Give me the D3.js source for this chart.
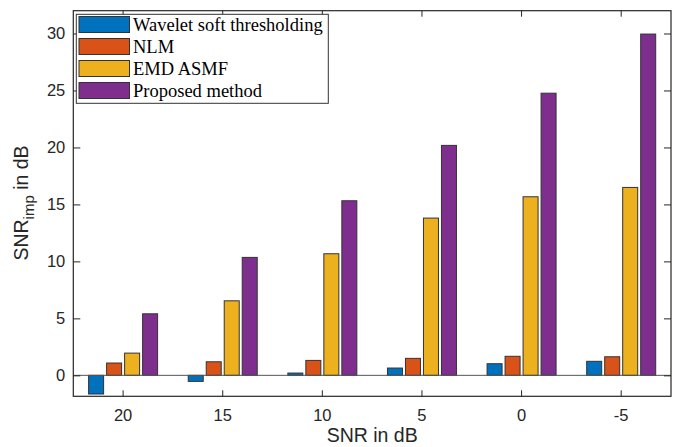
<!DOCTYPE html>
<html><head><meta charset="utf-8">
<script src="https://cdn.jsdelivr.net/npm/d3@7"></script>
<style>body{margin:0;background:#fff}svg{display:block}</style>
</head><body>
<script>
const categories = ["20","15","10","5","0","-5"];
const seriesNames = ["Wavelet soft thresholding","NLM","EMD ASMF","Proposed method"];
const wavelet = [-1.64,-0.53,0.2,0.64,1.02,1.23];
const nlm = [1.08,1.19,1.31,1.49,1.67,1.63];
const emd = [1.95,6.54,10.67,13.8,15.67,16.49];
const proposed = [5.4,10.35,15.32,20.18,24.76,29.95];
const yTicks = [0,5,10,15,20,25,30];
const colors = ["#0072BD","#D95319","#EDB120","#7E2F8E"];
const series = [wavelet,nlm,emd,proposed];

const W=682,H=447;
const m={l:73.3,r:671,t:10.7,b:396.3};
const svg=d3.select("body").append("svg").attr("width",W).attr("height",H);
const x=d3.scaleBand().domain(categories).range([m.l,m.r]).paddingInner(0).paddingOuter(0);
const y=d3.scaleLinear().domain([-1.84,32]).range([m.b,m.t]);
const ax="#262626";
const xs=d3.scaleBand().domain(d3.range(4)).range([-36,36]).paddingInner(1/6).paddingOuter(1/12);

// bars
series.forEach((vals,si)=>{
  svg.append("g").selectAll("rect").data(vals).enter().append("rect")
    .attr("x",(d,i)=>x(categories[i])+x.bandwidth()/2+xs(si))
    .attr("width",xs.bandwidth())
    .attr("y",d=>y(Math.max(0,d)))
    .attr("height",d=>Math.abs(y(d)-y(0)))
    .attr("fill",colors[si]).attr("stroke","#333").attr("stroke-width",1);
});
// baseline
svg.append("line").attr("x1",m.l).attr("x2",m.r).attr("y1",y(0)).attr("y2",y(0))
  .attr("stroke","#555").attr("stroke-width",1);

// axes
const fontAx="'Liberation Sans', Arial, sans-serif";
const xAxis=d3.axisBottom(x).tickSizeInner(-6).tickSizeOuter(0).tickPadding(13);
const gx=svg.append("g").attr("transform",`translate(0,${m.b})`).call(xAxis);
const gxt=svg.append("g").attr("transform",`translate(0,${m.t})`).call(d3.axisTop(x).tickSizeInner(-6).tickSizeOuter(0).tickFormat(""));
const yAxis=d3.axisLeft(y).tickValues(yTicks).tickSizeInner(-7).tickSizeOuter(0).tickPadding(8);
const gy=svg.append("g").attr("transform",`translate(${m.l},0)`).call(yAxis);
const gyr=svg.append("g").attr("transform",`translate(${m.r},0)`).call(d3.axisRight(y).tickValues(yTicks).tickSizeInner(-7).tickSizeOuter(0).tickFormat(""));
[gx,gxt,gy,gyr].forEach(g=>{
  g.select(".domain").remove();
  g.selectAll("line").attr("stroke",ax);
  g.selectAll("text").attr("font-family",fontAx).attr("font-size",16.5).attr("fill",ax);
});
svg.append("rect").attr("x",m.l).attr("y",m.t).attr("width",m.r-m.l).attr("height",m.b-m.t)
  .attr("fill","none").attr("stroke",ax).attr("stroke-width",1.2);

// labels
svg.append("text").attr("x",(m.l+m.r)/2).attr("y",442).attr("text-anchor","middle")
  .attr("font-family",fontAx).attr("font-size",19.5).attr("fill",ax).text("SNR in dB");
const yl=svg.append("text").attr("transform","translate(27.5,203) rotate(-90)").attr("text-anchor","middle")
  .attr("font-family",fontAx).attr("font-size",19.5).attr("fill",ax);
yl.append("tspan").text("SNR");
yl.append("tspan").attr("font-size",15).attr("dy",6).text("imp");
yl.append("tspan").attr("dy",-6).text(" in dB");

// legend
const lg=svg.append("g");
lg.append("rect").attr("x",76.3).attr("y",14.3).attr("width",252).attr("height",89)
  .attr("fill","#fff").attr("stroke","#333").attr("stroke-width",1);
seriesNames.forEach((n,i)=>{
  const cy=24.5+i*22;
  lg.append("rect").attr("x",79).attr("y",cy-8).attr("width",50.5).attr("height",16)
    .attr("fill",colors[i]).attr("stroke","#333").attr("stroke-width",1);
  lg.append("text").attr("x",133).attr("y",cy+6).attr("font-family","'Liberation Serif','Times New Roman',serif")
    .attr("font-size",18.5).attr("fill","#000").text(n);
});
</script>
</body></html>
